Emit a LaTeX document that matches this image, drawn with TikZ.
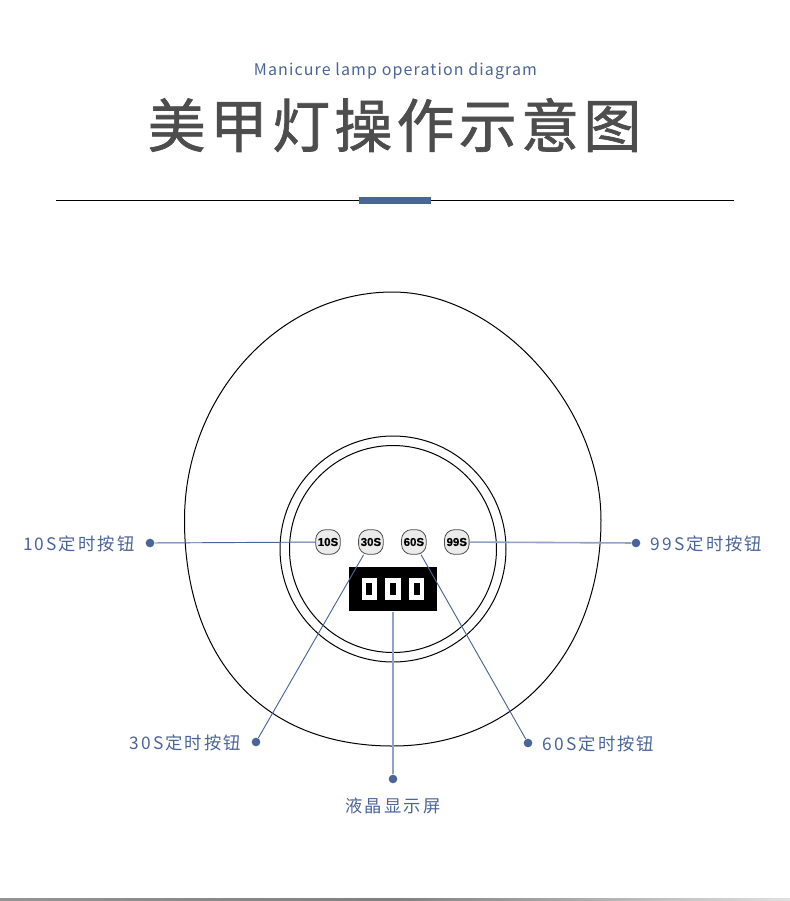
\documentclass[tikz,border=0pt]{standalone}
\usepackage{fontspec}
\usepackage{tikz}
\usepackage{xcolor}
\usetikzlibrary{positioning}
\newfontfamily\cjklabel[LetterSpace=12]{Noto Sans CJK SC}
\newfontfamily\cjksub[LetterSpace=7]{Noto Sans CJK SC}
\newfontfamily\cjktitle[FakeBold=1.2,LetterSpace=7.3]{Noto Sans CJK SC}
\newfontfamily\btnfont[FakeBold=0.4]{Liberation Sans}
\definecolor{leaderblue}{HTML}{4A6598}
\definecolor{leaderpale}{HTML}{8FA2C4}
\definecolor{titlegrey}{HTML}{4D4D4D}

\begin{document}
\begin{tikzpicture}[
    x=0.75pt, y=-0.75pt,
    outline/.style={draw=black, line width=0.75pt},
    btn/.style={draw=black!70, fill=black!8, rounded corners=7.5pt, line width=0.6pt, minimum size=18.5pt, inner sep=0pt, font=\btnfont\bfseries\fontsize{8.6}{9}\selectfont},
    dot/.style={circle, fill=leaderblue, minimum size=6.5pt, inner sep=0pt},
    tag/.style={text=leaderblue, inner sep=0pt, yshift=-0.7pt, font=\cjklabel\fontsize{13}{15}\selectfont},
    leader/.style={draw=leaderblue, line width=0.7pt},
    paleleader/.style={draw=leaderpale, line width=1.2pt},
    digit/.style={rectangle, draw=white, fill=black, line width=3.6pt, minimum width=8.1pt, minimum height=12.6pt, inner sep=0pt}
]
\useasboundingbox (0,0) rectangle (790,901);

% heading
\node[text=leaderblue, font=\cjksub\fontsize{12}{14}\selectfont] (subtitle) at (395.5,71.5) {Manicure lamp operation diagram};
\node[text=titlegrey, font=\cjktitle\fontsize{43.5}{50}\selectfont] (title) at (394.5,125) {美甲灯操作示意图};
\coordinate (ruleleft) at (56,200.5);
\coordinate (ruleright) at (734,200.5);
\draw[black, line width=0.9pt] (ruleleft) -- (ruleright);
\fill[leaderblue] (359,197) rectangle (431,204);

% lamp body
\draw[outline] (392.5,292)
  .. controls (497,292) and (601,405) .. (601,520)
  .. controls (601,650) and (518,746) .. (392.5,746)
  .. controls (259,746) and (184.5,655) .. (184.5,520)
  .. controls (184.5,398) and (277,292) .. (392.5,292) -- cycle;
\draw[outline] (393,549) circle (113);
\draw[outline] (393,549) circle (103.5);

% buttons
\node[btn] (btnten) at (328,542) {10S};
\node[btn, right=13.1pt of btnten] (btnthirty) {30S};
\node[btn, right=13.1pt of btnthirty] (btnsixty) {60S};
\node[btn, right=13.1pt of btnsixty] (btnninety) {99S};

% display
\node[rectangle, fill=black, minimum width=66pt, minimum height=33.5pt, inner sep=0pt] (lcd) at (393,589) {};
\node[digit] (digitb) at (393,589) {};
\node[digit, left=6pt of digitb] (digita) {};
\node[digit, right=6pt of digitb] (digitc) {};

% end points and labels
\node[dot] (dotten) at (150,543) {};
\node[dot] (dotninety) at (636,543) {};
\node[dot] (dotthirty) at (256,742) {};
\node[dot] (dotsixty) at (528,743) {};
\node[dot] (dotlcd) at (393,779) {};

\node[tag, left=8pt of dotten] (tagten) {10S定时按钮};
\node[tag, right=7.5pt of dotninety] (tagninety) {99S定时按钮};
\node[tag, left=7.5pt of dotthirty] (tagthirty) {30S定时按钮};
\node[tag, right=7.5pt of dotsixty] (tagsixty) {60S定时按钮};
\node[tag, below=9.5pt of dotlcd] (taglcd) {液晶显示屏};

\draw[leader] (dotten) -- (btnten);
\draw[paleleader] (dotninety) -- (btnninety);
\draw[leader] (dotthirty) -- (btnthirty);
\draw[leader] (dotsixty) -- (btnsixty);
\draw[paleleader] (dotlcd) -- (lcd);

% strip along the bottom edge
\shade[left color=black!42, right color=black!12, middle color=black!50] (0,898) rectangle (790,901);
\end{tikzpicture}
\end{document}
